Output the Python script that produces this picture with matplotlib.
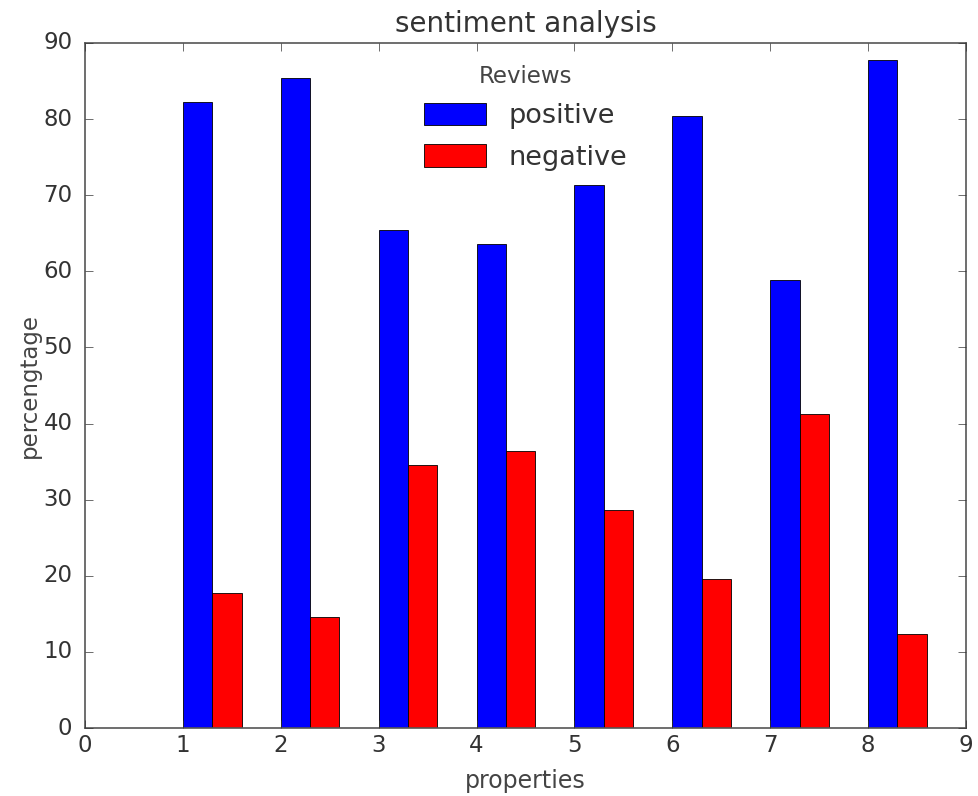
import matplotlib
matplotlib.use("Agg")
import matplotlib.pyplot as plt
import numpy as np

plt.style.use('classic')

properties = [1, 2, 3, 4, 5, 6, 7, 8]
positive = [82.2, 85.4, 65.4, 63.6, 71.3, 80.4, 58.8, 87.7]
negative = [17.8, 14.6, 34.6, 36.4, 28.7, 19.6, 41.2, 12.3]
bar_width = 0.3

fig = plt.figure(figsize=(9.79, 7.96), dpi=100, facecolor='white')
ax = fig.add_axes([0.0868, 0.0854, 0.8999, 0.8606])

x = np.array(properties, dtype=float)
ax.bar(x, positive, bar_width, align='edge', color='#0000ff', edgecolor='black', linewidth=0.6, label='positive')
ax.bar(x + bar_width, negative, bar_width, align='edge', color='#ff0000', edgecolor='black', linewidth=0.6, label='negative')

ax.set_xlim(0, 9)
ax.set_ylim(0, 90)
ax.set_xticks(range(0, 10))
ax.set_yticks(range(0, 91, 10))
ax.tick_params(labelsize=16.5, colors='#333333', length=6)
ax.tick_params(axis='y', pad=9)
for s in ax.spines.values():
    s.set_color('#555555')
    s.set_linewidth(1.2)

ax.set_title('sentiment analysis', fontsize=20, color='#333333', pad=8)
ax.set_xlabel('properties', fontsize=17, color='#444444', labelpad=9)
ax.set_ylabel('percengtage', fontsize=16.5, color='#444444', labelpad=2)

leg = ax.legend(loc='upper center', title='Reviews', frameon=False, fontsize=19.5,
                handlelength=2.3, handleheight=0.9, labelspacing=0.55, borderaxespad=0.4,
                handletextpad=0.8)
leg.get_title().set_fontsize(16.5)
leg.get_title().set_color('#444444')
for t in leg.get_texts():
    t.set_color('#333333')

fig.savefig('out.png', dpi=100, facecolor='white')
